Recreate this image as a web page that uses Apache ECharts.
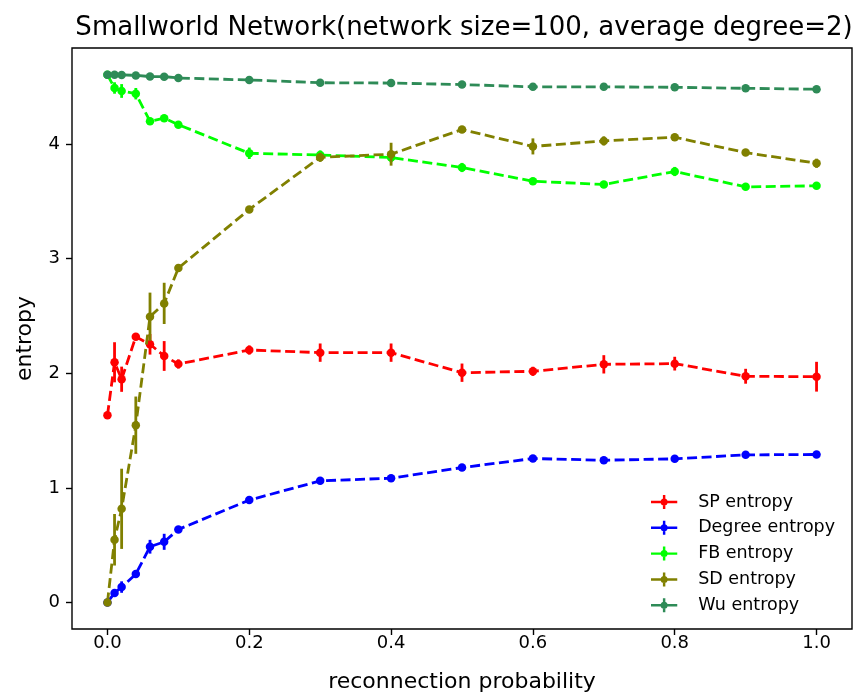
<!DOCTYPE html>
<html>
<head>
<meta charset="utf-8">
<script src="https://cdn.jsdelivr.net/npm/echarts@6/dist/echarts.min.js"></script>
<style>
  html, body { margin: 0; padding: 0; background: #fff; }
  #chart { width: 854px; height: 695px; }
</style>
</head>
<body>
<div id="chart"></div>
<script>
// reconnection probability
var probs = [0, 0.01, 0.02, 0.04, 0.06, 0.08, 0.1, 0.2, 0.3, 0.4, 0.5, 0.6, 0.7, 0.8, 0.9, 1.0];

var spEntropy = [1.634, 2.096, 1.948, 2.319, 2.253, 2.151, 2.081, 2.203, 2.18, 2.18, 2.005, 2.017, 2.078, 2.084, 1.974, 1.97];
var spErr = [0, 0.175, 0.11, 0.03, 0.09, 0.13, 0.04, 0.04, 0.08, 0.08, 0.08, 0.04, 0.08, 0.06, 0.065, 0.13];

var degreeEntropy = [0, 0.082, 0.134, 0.247, 0.486, 0.529, 0.637, 0.893, 1.061, 1.084, 1.177, 1.256, 1.241, 1.253, 1.288, 1.291];
var degreeErr = [0, 0.03, 0.05, 0.03, 0.06, 0.07, 0.02, 0.02, 0.02, 0.02, 0.02, 0.02, 0.02, 0.02, 0.02, 0.02];

var fbEntropy = [4.605, 4.49, 4.464, 4.44, 4.2, 4.226, 4.17, 3.92, 3.905, 3.883, 3.796, 3.676, 3.648, 3.761, 3.627, 3.636];
var fbErr = [0, 0.05, 0.06, 0.05, 0.02, 0.02, 0.02, 0.05, 0.04, 0.04, 0.04, 0.02, 0.02, 0.04, 0.02, 0.02];

var sdEntropy = [0, 0.547, 0.817, 1.547, 2.494, 2.61, 2.918, 3.43, 3.885, 3.912, 4.127, 3.98, 4.028, 4.06, 3.926, 3.833];
var sdErr = [0, 0.225, 0.35, 0.25, 0.21, 0.18, 0.02, 0.02, 0.04, 0.1, 0.02, 0.07, 0.04, 0.02, 0.02, 0.04];

var wuEntropy = [4.605, 4.605, 4.604, 4.6, 4.59, 4.589, 4.577, 4.56, 4.536, 4.533, 4.52, 4.5, 4.5, 4.496, 4.487, 4.479];
var wuErr = [0, 0, 0, 0, 0, 0, 0, 0, 0, 0, 0, 0, 0, 0, 0, 0];

var xTicks = [0, 0.2, 0.4, 0.6, 0.8, 1.0];
var yTicks = [0, 1, 2, 3, 4];

var seriesNames = ['SP entropy', 'Degree entropy', 'FB entropy', 'SD entropy', 'Wu entropy'];
var seriesValues = [spEntropy, degreeEntropy, fbEntropy, sdEntropy, wuEntropy];
var seriesErrors = [spErr, degreeErr, fbErr, sdErr, wuErr];
var colors = ['#ff0000', '#0000ff', '#00ff00', '#808000', '#2e8b57'];

var FONT = 'DejaVu Sans';
var LW = 2.8;

// legend icon: line + error bar + dot
var legendIcon = 'path://M0,6.6H30V9.4H0Z M13.6,0H16.4V16H13.6Z M11,8A4,4 0 1,1 19,8A4,4 0 1,1 11,8Z';

var chart = echarts.init(document.getElementById('chart'));

var series = [];
seriesNames.forEach(function (name, i) {
  var pts = probs.map(function (x, j) { return [x, seriesValues[i][j]]; });
  series.push({
    name: name,
    type: 'line',
    data: pts,
    symbol: 'circle',
    symbolSize: 8.5,
    showSymbol: true,
    color: colors[i],
    lineStyle: { width: LW, type: [10, 4.5], color: colors[i] },
    itemStyle: { color: colors[i] },
    animation: false,
    z: 2 + i
  });
  // error bars
  var errData = probs.map(function (x, j) { return [x, seriesValues[i][j], seriesErrors[i][j]]; });
  series.push({
    name: name,
    type: 'custom',
    data: errData,
    encode: { x: 0, y: 1 },
    animation: false,
    z: 2 + i,
    renderItem: function (params, api) {
      var x = api.value(0), y = api.value(1), e = api.value(2);
      if (!e) return null;
      var p1 = api.coord([x, y - e]);
      var p2 = api.coord([x, y + e]);
      return {
        type: 'line',
        shape: { x1: p1[0], y1: p1[1], x2: p2[0], y2: p2[1] },
        style: { stroke: colors[i], lineWidth: LW }
      };
    }
  });
});

var option = {
  backgroundColor: '#fff',
  animation: false,
  title: {
    text: 'Smallworld Network(network size=100, average degree=2)',
    left: 459,
    top: 10,
    textAlign: 'center',
    textStyle: { fontFamily: FONT, fontSize: 26, fontWeight: 'normal', color: '#000' }
  },
  grid: {
    left: 72, right: 2, top: 48, bottom: 66,
    outerBoundsMode: 'none',
    containLabel: false,
    show: true,
    borderColor: '#000',
    borderWidth: 1.4,
    backgroundColor: 'transparent'
  },
  legend: {
    orient: 'vertical',
    left: 651,
    top: 493,
    padding: 0,
    itemWidth: 30,
    itemHeight: 14,
    itemGap: 7.8,
    data: seriesNames.map(function (n) { return { name: n, icon: legendIcon }; }),
    textStyle: { fontFamily: FONT, fontSize: 17.5, color: '#000', padding: [0, 0, 0, 14] }
  },
  xAxis: {
    type: 'value',
    min: -0.05,
    max: 1.05,
    name: 'reconnection probability',
    nameLocation: 'middle',
    nameGap: 42,
    nameTextStyle: { fontFamily: FONT, fontSize: 22, color: '#000' },
    axisLine: { show: false, onZero: false },
    splitLine: { show: false },
    axisTick: { show: true, inside: false, length: 6, customValues: xTicks, lineStyle: { color: '#000', width: 1.4 } },
    axisLabel: {
      customValues: xTicks,
      margin: 5,
      fontFamily: FONT, fontSize: 18, color: '#000',
      formatter: function (v) { return v.toFixed(1); }
    }
  },
  yAxis: {
    type: 'value',
    min: -0.232,
    max: 4.839,
    name: 'entropy',
    nameLocation: 'middle',
    nameGap: 36,
    nameTextStyle: { fontFamily: FONT, fontSize: 22, color: '#000' },
    axisLine: { show: false, onZero: false },
    splitLine: { show: false },
    axisTick: { show: true, inside: false, length: 6, customValues: yTicks, lineStyle: { color: '#000', width: 1.4 } },
    axisLabel: {
      customValues: yTicks,
      margin: 12,
      fontFamily: FONT, fontSize: 18, color: '#000',
      formatter: function (v) { return String(v); }
    }
  },
  series: series
};

chart.setOption(option);
</script>
</body>
</html>
